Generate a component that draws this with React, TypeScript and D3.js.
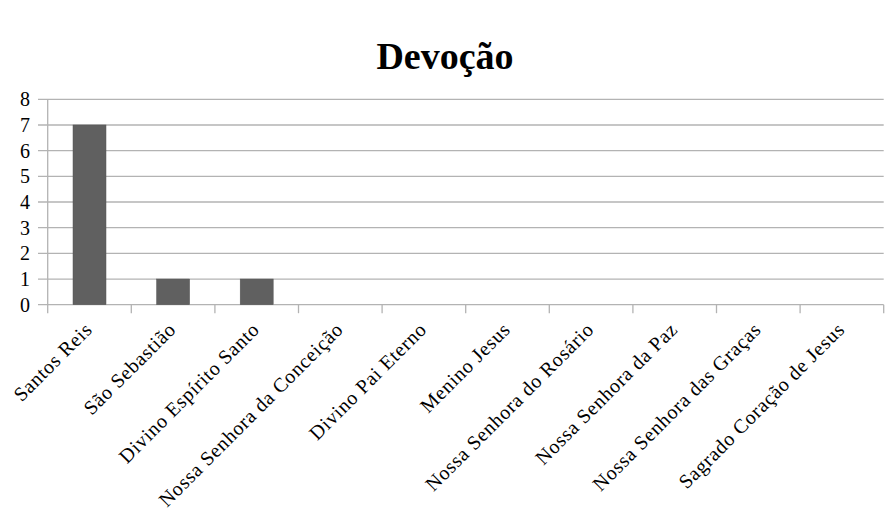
import React from "react";
import * as d3 from "d3";

const categories = [
  "Santos Reis",
  "São Sebastião",
  "Divino Espírito Santo",
  "Nossa Senhora da Conceição",
  "Divino Pai Eterno",
  "Menino Jesus",
  "Nossa Senhora do Rosário",
  "Nossa Senhora da Paz",
  "Nossa Senhora das Graças",
  "Sagrado Coração de Jesus",
];
const values = [7, 1, 1, 0, 0, 0, 0, 0, 0, 0];
const yTicks = [0, 1, 2, 3, 4, 5, 6, 7, 8];
const title = "Devoção";

export default function App() {
  const W = 891, H = 521;
  const left = 47.7, right = 883.7, top = 99.3, bottom = 304.7;
  const x = d3.scaleBand<string>().domain(categories).range([left, right]).paddingInner(0).paddingOuter(0);
  const y = d3.scaleLinear().domain([0, 8]).range([bottom, top]);
  const step = x.step();
  const barW = 33;
  const font = "'Liberation Serif', 'Times New Roman', serif";
  const grid = "#b3b3b3";
  const ticksX = categories.map((_, i) => left + i * step).concat([right]);
  return (
    <svg width={W} height={H} style={{ position: "absolute", left: 0, top: 0, background: "#fff" }}>
      <text x={445} y={69} textAnchor="middle" fontFamily={font} fontWeight="bold" fontSize={38} fill="#000">{title}</text>
      {yTicks.map((t) => (
        <g key={t}>
          <line x1={38} x2={right} y1={y(t)} y2={y(t)} stroke={grid} strokeWidth={1.3} />
          <text x={30} y={y(t)} dy="0.35em" textAnchor="end" fontFamily={font} fontSize={20} fill="#000">{t}</text>
        </g>
      ))}
      <line x1={left} x2={left} y1={top} y2={bottom} stroke={grid} strokeWidth={1.3} />
      {ticksX.map((tx, i) => (
        <line key={i} x1={tx} x2={tx} y1={bottom} y2={bottom + 8.5} stroke={grid} strokeWidth={1.3} />
      ))}
      {categories.map((c, i) => {
        const cx = (x(c) as number) + step / 2;
        const v = values[i];
        return (
          <g key={c}>
            {v > 0 && (
              <rect x={cx - barW / 2} y={y(v)} width={barW} height={y(0) - y(v)} fill="#606060" stroke="#555" strokeWidth={0.5} />
            )}
            <text
              transform={`translate(${cx + 4},${bottom + 26}) rotate(-45)`}
              textAnchor="end"
              fontFamily={font}
              fontSize={20}
              letterSpacing={0.7}
              fill="#000"
            >{c}</text>
          </g>
        );
      })}
    </svg>
  );
}
